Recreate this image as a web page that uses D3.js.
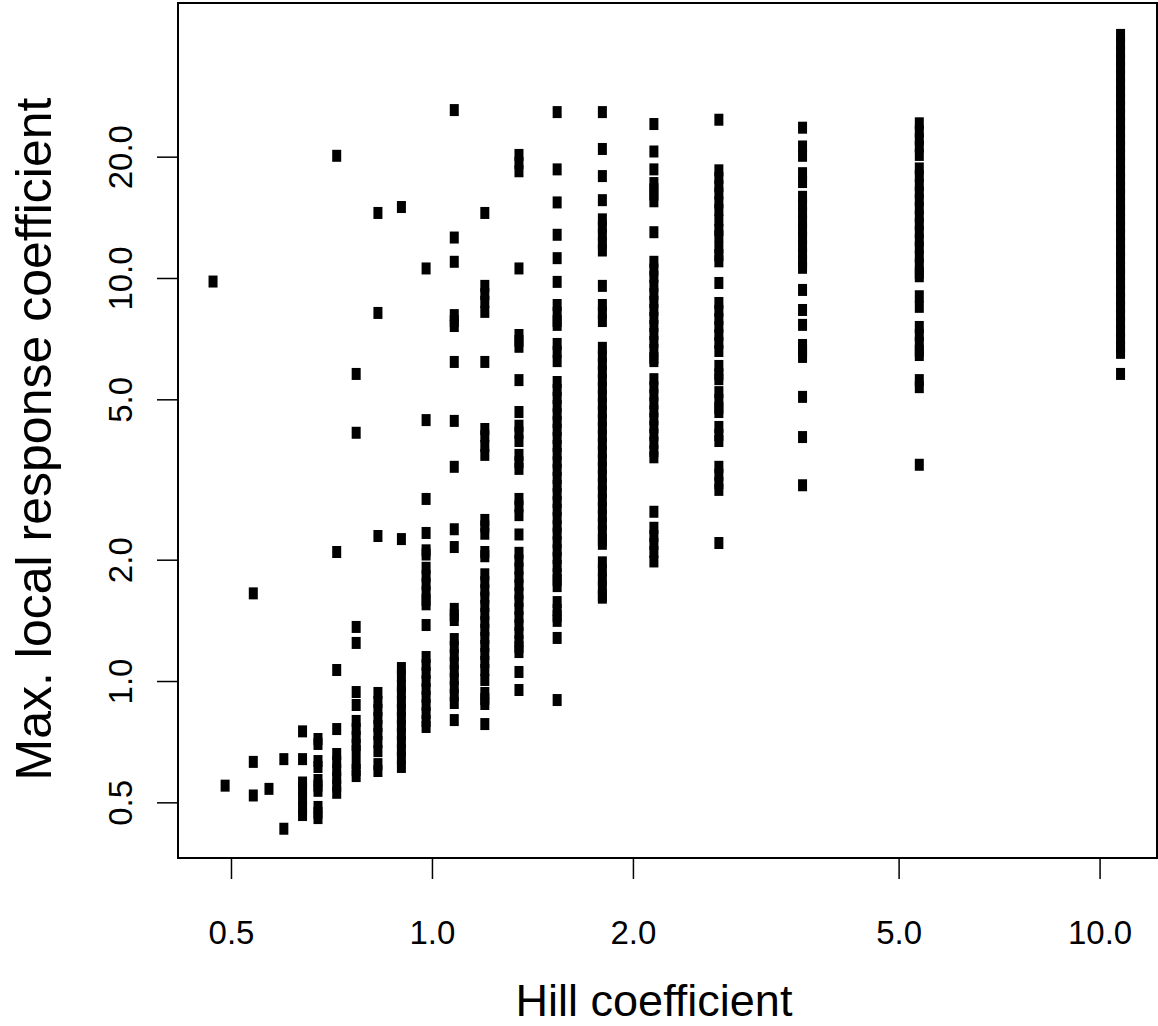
<!DOCTYPE html>
<html>
<head>
<meta charset="utf-8">
<script src="https://cdn.jsdelivr.net/npm/d3@7/dist/d3.min.js"></script>
<style>
  body { margin: 0; background: #fff; }
  text { font-family: "Liberation Sans", Arial, Helvetica, sans-serif; fill: #000; }
</style>
</head>
<body>
<div id="chart"></div>
<script>
// Hill coefficient of each column of points
const hill = [0.47, 0.49, 0.54, 0.57, 0.60, 0.64, 0.675, 0.72, 0.77, 0.83, 0.90,
  0.98, 1.08, 1.2, 1.35, 1.54, 1.8, 2.15, 2.69, 3.59, 5.37, 10.75];

// max. local response coefficient, one list per Hill coefficient
const r047 = [9.8];
const r049 = [0.55];
const r054 = [1.65, 0.63, 0.52];
const r057 = [0.54];
const r060 = [0.64, 0.43];
const r064 = [0.75, 0.64, 0.56, 0.54, 0.51, 0.485, 0.465];
const r0675 = [0.718, 0.698, 0.633, 0.612, 0.568, 0.55, 0.534, 0.487, 0.471, 0.457];
const r072 = [20.1, 2.09, 1.065, 0.76, 0.659, 0.63, 0.601, 0.575, 0.55, 0.528];
const r077 = [5.78, 4.13, 1.362, 1.243, 0.939, 0.872, 0.796, 0.76, 0.726, 0.694, 0.67, 0.626, 0.601, 0.581];
const r083 = [14.5, 8.19, 2.29, 0.934, 0.887, 0.847, 0.809, 0.773, 0.739, 0.706, 0.67, 0.622, 0.598];
const r090 = [15.0, 2.25, 1.077, 1.029, 0.972, 0.934, 0.887, 0.847, 0.809, 0.773, 0.739, 0.706, 0.674, 0.645, 0.612];
const r098 = [10.56, 4.44, 2.83, 2.33, 2.11, 2.06, 1.91, 1.82, 1.74, 1.66, 1.589, 1.55, 1.377,
  1.147, 1.096, 1.047, 1.0, 0.955, 0.913, 0.872, 0.833, 0.796, 0.769];
const r108 = [26.1, 12.6, 10.97, 8.09, 7.82, 7.6, 6.19, 4.42, 3.4, 2.38, 2.15, 1.51, 1.457, 1.417,
  1.271, 1.215, 1.16, 1.108, 1.059, 1.012, 0.966, 0.923, 0.882, 0.8];
const r120 = [14.5, 9.56, 9.12, 8.72, 8.24, 6.19, 4.22, 4.05, 3.83, 3.64, 2.51, 2.42, 2.32, 2.09, 2.04,
  1.84, 1.76, 1.68, 1.61, 1.535, 1.466, 1.4, 1.339, 1.279, 1.222, 1.167, 1.115, 1.065, 1.006,
  0.934, 0.902, 0.877, 0.782];
const r135 = [20.2, 19.3, 18.4, 10.56, 7.22, 6.98, 6.75, 5.58, 4.65, 4.3, 4.13, 3.94, 3.64, 3.49, 3.36,
  2.83, 2.71, 2.58, 2.31, 2.08, 1.99, 1.9, 1.81, 1.73, 1.65, 1.58, 1.51, 1.44, 1.377, 1.316,
  1.257, 1.215, 1.18, 1.053, 0.95];
const r154 = [25.8, 18.6, 15.4, 12.8, 11.2, 9.78, 8.57, 8.19, 7.82, 7.65, 6.86, 6.56, 6.22, 5.52,
  5.27, 5.04, 4.81, 4.59, 4.39, 4.2, 4.01, 3.83, 3.66, 3.49, 3.34, 3.19, 3.05, 2.91, 2.78, 2.66,
  2.54, 2.42, 2.32, 2.21, 2.11, 2.02, 1.93, 1.84, 1.78, 1.72, 1.57, 1.5, 1.45, 1.41, 1.279, 0.897];
const r180 = [25.8, 20.9, 17.9, 15.6, 13.98, 13.4, 12.8, 12.2, 11.7, 9.56, 8.57, 8.19, 7.82, 6.71,
  6.4, 6.12, 5.84, 5.58, 5.33, 5.09, 4.87, 4.65, 4.44, 4.25, 4.06, 3.88, 3.7, 3.53, 3.38, 3.23,
  3.08, 2.95, 2.81, 2.69, 2.57, 2.46, 2.35, 2.24, 2.19, 1.97, 1.88, 1.79, 1.71, 1.63, 1.61];
const r215 = [24.1, 20.6, 18.6, 17.2, 16.6, 16.1, 15.5, 12.99, 10.97, 10.5, 10.06, 9.56, 9.12, 8.72,
  8.33, 7.96, 7.6, 7.26, 6.94, 6.63, 6.33, 6.22, 5.61, 5.36, 5.12, 4.89, 4.67, 4.47, 4.27, 4.08,
  3.9, 3.72, 3.59, 2.63, 2.4, 2.29, 2.19, 2.09, 1.98];
const r269 = [24.7, 18.5, 17.7, 16.9, 16.2, 15.4, 14.75, 13.9, 13.15, 12.7, 11.9, 11.4, 11.0, 9.72,
  8.67, 8.29, 7.91, 7.56, 7.22, 6.9, 6.59, 6.05, 5.77, 5.61, 5.21, 4.98, 4.76, 4.65, 4.27, 4.08,
  3.94, 3.4, 3.25, 3.1, 2.98, 2.2];
const r359 = [23.6, 21.2, 20.1, 18.2, 17.3, 15.9, 15.2, 14.5, 13.8, 13.2, 12.6, 12.0, 11.5, 11.0,
  10.6, 9.34, 8.33, 7.65, 6.82, 6.59, 6.37, 5.07, 4.03, 3.06];
const r537 = [24.2, 23.1, 22.1, 21.2, 20.2, 18.7, 17.9, 17.0, 16.3, 15.6, 14.9, 14.2, 13.6, 13.0,
  12.4, 11.9, 11.3, 10.8, 10.3, 10.1, 9.01, 8.48, 7.56, 7.22, 6.9, 6.59, 6.44, 5.58, 5.36, 3.44];
const r1075 = [40.1, 38.2, 36.4, 34.8, 33.4, 31.8, 30.3, 29.1, 27.8, 26.6, 25.4, 24.2, 23.1, 22.1,
  21.2, 20.2, 19.3, 18.4, 17.6, 16.8, 16.1, 15.3, 14.7, 14.0, 13.4, 12.8, 12.2, 11.7, 11.2, 10.6,
  10.2, 9.72, 9.29, 8.87, 8.48, 8.09, 7.74, 7.39, 7.06, 6.75, 6.52, 5.78];

const response = [r047, r049, r054, r057, r060, r064, r0675, r072, r077, r083, r090,
  r098, r108, r120, r135, r154, r180, r215, r269, r359, r537, r1075];

const xTicks = [0.5, 1, 2, 5, 10];
const yTicks = [0.5, 1, 2, 5, 10, 20];
const xLimits = [0.4165, 12.19];
const yLimits = [0.3638, 48.12];

const points = [];
hill.forEach((h, i) => response[i].forEach(v => points.push({ h: h, v: v })));

const width = 1158;
const height = 1026;
const margin = { top: 3, left: 178, bottom: 168, right: 1 };
const iwidth = width - margin.left - margin.right;
const iheight = height - margin.top - margin.bottom;

const svg = d3.select("#chart")
  .append("svg")
  .attr("width", width)
  .attr("height", height);

const g = svg.append("g")
  .attr("transform", `translate(${margin.left},${margin.top})`);

const x = d3.scaleLog().domain(xLimits).range([0, iwidth]);
const y = d3.scaleLog().domain(yLimits).range([iheight, 0]);

// points (filled squares)
g.selectAll("rect.pt")
  .data(points)
  .enter()
  .append("rect")
  .attr("class", "pt")
  .attr("x", d => x(d.h) - 4.5)
  .attr("y", d => y(d.v) - 6)
  .attr("width", 9)
  .attr("height", 12)
  .attr("fill", "#000");

// axes
const xAxis = g.append("g")
  .attr("transform", `translate(0,${iheight})`)
  .call(d3.axisBottom(x).tickValues(xTicks).tickFormat(d3.format(".1f"))
    .tickSize(21).tickPadding(42));
xAxis.select(".domain").remove();
xAxis.selectAll("line").attr("stroke", "#000").attr("stroke-width", 1.5);
xAxis.selectAll("text")
  .style("font-size", "33px")
  .style("font-family", '"Liberation Sans", Arial, sans-serif');

const yAxis = g.append("g")
  .call(d3.axisLeft(y).tickValues(yTicks).tickFormat(d3.format(".1f")).tickSize(21));
yAxis.select(".domain").remove();
yAxis.selectAll("line").attr("stroke", "#000").attr("stroke-width", 1.5);
yAxis.selectAll("text")
  .attr("x", 0)
  .attr("dy", 0)
  .attr("text-anchor", "middle")
  .attr("transform", "translate(-46,0) rotate(-90)")
  .style("font-size", "33px")
  .style("font-family", '"Liberation Sans", Arial, sans-serif');

// plot box
g.append("rect")
  .attr("x", 0)
  .attr("y", 0)
  .attr("width", iwidth)
  .attr("height", iheight)
  .attr("fill", "none")
  .attr("stroke", "#000")
  .attr("stroke-width", 2);

// axis titles
svg.append("text")
  .attr("x", 654)
  .attr("y", 1016)
  .attr("text-anchor", "middle")
  .style("font-size", "45px")
  .text("Hill coefficient");

svg.append("text")
  .attr("transform", "translate(51,439) rotate(-90)")
  .attr("text-anchor", "middle")
  .style("font-size", "50px")
  .text("Max. local response coefficient");
</script>
</body>
</html>
